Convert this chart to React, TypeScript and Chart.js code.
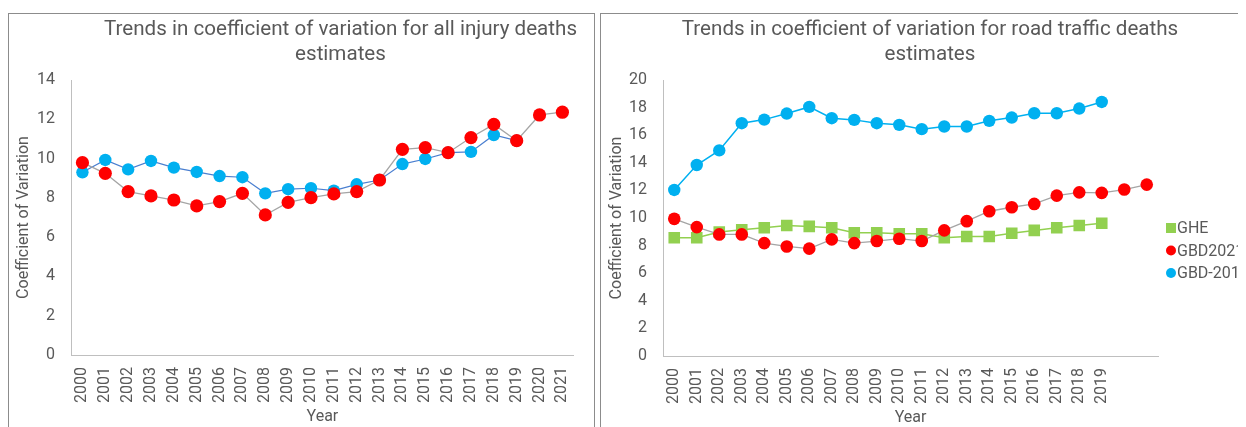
import React, { useEffect, useRef } from 'react';
import { Chart, registerables } from 'chart.js';

Chart.register(...registerables);

// ---------- data ----------
const injuryYears = ['2000', '2001', '2002', '2003', '2004', '2005', '2006', '2007', '2008', '2009', '2010', '2011', '2012', '2013', '2014', '2015', '2016', '2017', '2018', '2019', '2020', '2021'];
const injuryGBD2019 = [9.3, 9.93, 9.45, 9.88, 9.54, 9.32, 9.11, 9.05, 8.23, 8.44, 8.49, 8.37, 8.69, 8.91, 9.72, 9.98, 10.3, 10.34, 11.2, 10.91];
const injuryGBD2021 = [9.79, 9.25, 8.32, 8.1, 7.89, 7.59, 7.81, 8.23, 7.13, 7.77, 8.01, 8.2, 8.32, 8.91, 10.47, 10.56, 10.3, 11.07, 11.74, 10.91, 12.22, 12.36];

const roadYears = ['2000', '2001', '2002', '2003', '2004', '2005', '2006', '2007', '2008', '2009', '2010', '2011', '2012', '2013', '2014', '2015', '2016', '2017', '2018', '2019', '', ''];
const roadGHE = [8.57, 8.57, 8.98, 9.15, 9.29, 9.46, 9.39, 9.29, 8.93, 8.93, 8.86, 8.86, 8.57, 8.66, 8.66, 8.9, 9.1, 9.29, 9.46, 9.62];
const roadGBD2021 = [9.94, 9.34, 8.81, 8.81, 8.18, 7.94, 7.78, 8.45, 8.18, 8.33, 8.5, 8.33, 9.1, 9.77, 10.49, 10.78, 11.02, 11.62, 11.86, 11.82, 12.06, 12.42];
const roadGBD2019 = [12.03, 13.84, 14.9, 16.87, 17.13, 17.57, 18.05, 17.23, 17.11, 16.87, 16.75, 16.44, 16.63, 16.63, 17.04, 17.28, 17.59, 17.59, 17.93, 18.41];

const injuryTitle = ['Trends in coefficient of variation for all injury deaths', 'estimates'];
const roadTitle = ['Trends in coefficient of variation for road traffic deaths', 'estimates'];
const yAxisTitle = 'Coefficient of Variation';
const xAxisTitle = 'Year';
const seriesNames = ['GHE', 'GBD2021', 'GBD-2019'];

// ---------- style ----------
const FONT = 'Roboto';
const TEXT = '#595959';
const AXIS = '#bfbfbf';
const RED = '#ff0000';
const BLUE = '#00b0f0';
const GREEN = '#92d050';

const titlePlugin = {
  id: 'panelTitle',
  afterDraw(chart: any, _args: any, opts: any) {
    const ctx = chart.ctx;
    ctx.save();
    ctx.font = `20.6px ${FONT}`;
    ctx.fillStyle = TEXT;
    ctx.textAlign = 'center';
    ctx.textBaseline = 'middle';
    (opts.lines || []).forEach((l: string, i: number) => {
      ctx.fillText(l, opts.x, opts.y + i * opts.gap);
    });
    ctx.restore();
  },
};

const legendPlugin = {
  id: 'panelLegend',
  afterDraw(chart: any, _args: any, opts: any) {
    if (!opts || !opts.show) return;
    const ctx = chart.ctx;
    ctx.save();
    ctx.font = `16px ${FONT}`;
    ctx.textBaseline = 'middle';
    ctx.textAlign = 'left';
    (opts.order as number[]).forEach((dsIndex, i) => {
      const ds = chart.data.datasets[dsIndex];
      const y = opts.y + i * opts.gap;
      const x = opts.x;
      ctx.fillStyle = ds.pointBackgroundColor;
      if (ds.pointStyle === 'rect') {
        ctx.fillRect(x - 5, y - 5, 10, 10);
      } else {
        ctx.beginPath();
        ctx.arc(x, y, 5, 0, Math.PI * 2);
        ctx.fill();
      }
      ctx.fillStyle = TEXT;
      ctx.fillText(ds.label, x + 6, y + 1);
    });
    ctx.restore();
  },
};

function yScale(max: number, width: number, titlePad: number) {
  return {
    min: 0,
    max,
    ticks: { stepSize: 2, color: TEXT, font: { family: FONT, size: 16 }, padding: 16 },
    grid: { display: false, drawTicks: false },
    border: { display: true, color: AXIS, width: 1 },
    title: {
      display: true,
      text: yAxisTitle,
      color: TEXT,
      font: { family: FONT, size: 16 },
      padding: { top: titlePad, bottom: 0 },
    },
    afterFit: (s: any) => {
      s.width = width;
    },
  };
}

function xScale(height: number) {
  return {
    type: 'category' as const,
    offset: true,
    ticks: {
      color: TEXT,
      font: { family: FONT, size: 16 },
      padding: 12,
      minRotation: 90,
      maxRotation: 90,
      autoSkip: false,
    },
    grid: { display: false, drawTicks: false, offset: true },
    border: { display: true, color: AXIS, width: 1 },
    title: {
      display: true,
      text: xAxisTitle,
      color: TEXT,
      font: { family: FONT, size: 16 },
      padding: { top: 0, bottom: 3 },
    },
    afterFit: (s: any) => {
      s.height = height;
    },
  };
}

function lineSeries(label: string, data: number[], color: string, lineColor: string, style: string, radius: number, order: number, lineWidth = 1.3) {
  return {
    label,
    data,
    borderColor: lineColor,
    borderWidth: lineWidth,
    backgroundColor: color,
    pointBackgroundColor: color,
    pointBorderColor: color,
    pointBorderWidth: 0,
    pointStyle: style,
    pointRadius: radius,
    pointHoverRadius: radius,
    tension: 0,
    fill: false,
    order,
  };
}

function InjuryChart() {
  const ref = useRef<HTMLCanvasElement>(null);
  useEffect(() => {
    if (!ref.current) return;
    const chart = new Chart(ref.current, {
      type: 'line',
      data: {
        labels: injuryYears,
        datasets: [
          lineSeries(seriesNames[1], injuryGBD2021, RED, '#a5a5a5', 'circle', 6.6, 0, 1.3) as any,
          lineSeries(seriesNames[2], injuryGBD2019, BLUE, '#4a7fd0', 'circle', 6.2, 1, 1.2) as any,
        ],
      },
      options: {
        responsive: false,
        animation: false,
        events: [],
        layout: { padding: { left: 0, top: 66, right: 18, bottom: 4 } },
        scales: {
          x: xScale(75) as any,
          y: yScale(14, 62, 5) as any,
        },
        plugins: {
          legend: { display: false },
          title: { display: false },
          tooltip: { enabled: false },
          panelTitle: { lines: injuryTitle, x: 331.5, y: 16, gap: 25 },
        } as any,
      },
      plugins: [titlePlugin],
    });
    return () => chart.destroy();
  }, []);
  return <canvas ref={ref} width={585} height={420} style={{ display: 'block' }} />;
}

function RoadChart() {
  const ref = useRef<HTMLCanvasElement>(null);
  useEffect(() => {
    if (!ref.current) return;
    const chart = new Chart(ref.current, {
      type: 'line',
      data: {
        labels: roadYears,
        datasets: [
          lineSeries(seriesNames[0], roadGHE, GREEN, GREEN, 'rect', 8.2, 2, 1.5) as any,
          lineSeries(seriesNames[1], roadGBD2021, RED, '#a5a5a5', 'circle', 6.3, 1, 1.3) as any,
          lineSeries(seriesNames[2], roadGBD2019, BLUE, BLUE, 'circle', 6.2, 0, 1.5) as any,
        ],
      },
      options: {
        responsive: false,
        animation: false,
        events: [],
        layout: { padding: { left: 0, top: 66, right: 103, bottom: 3 } },
        scales: {
          x: xScale(75) as any,
          y: yScale(20, 62, 6) as any,
        },
        plugins: {
          legend: { display: false },
          title: { display: false },
          tooltip: { enabled: false },
          panelTitle: { lines: roadTitle, x: 329, y: 16, gap: 25 },
          panelLegend: { show: true, order: [0, 1, 2], x: 570, y: 214, gap: 22.5 },
        } as any,
      },
      plugins: [titlePlugin, legendPlugin],
    });
    return () => chart.destroy();
  }, []);
  return <canvas ref={ref} width={660} height={420} style={{ display: 'block' }} />;
}

export default function App() {
  const panel: React.CSSProperties = {
    position: 'absolute',
    top: 5,
    height: 430,
    border: '1px solid #8c8c8c',
    background: '#fff',
    overflow: 'hidden',
  };
  return (
    <div style={{ position: 'relative', width: 1238, height: 419, overflow: 'hidden', background: '#fff' }}>
      <div style={{ ...panel, left: 0, width: 585 }}>
        <InjuryChart />
      </div>
      <div style={{ ...panel, left: 592, width: 700 }}>
        <RoadChart />
      </div>
    </div>
  );
}
